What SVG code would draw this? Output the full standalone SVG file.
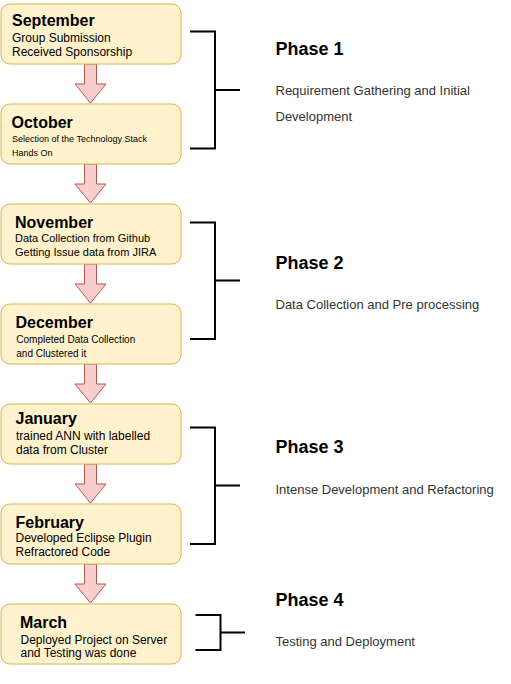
<svg xmlns="http://www.w3.org/2000/svg" width="511" height="684" viewBox="0 0 511 684">
<style>
.box{fill:#fff2cc;stroke:#d6b656;stroke-width:1}
.arr{fill:#f8cecc;stroke:#b85450;stroke-width:1}
.br{fill:none;stroke:#000;stroke-width:2}
text{font-family:"Liberation Sans",Arial,sans-serif;fill:#000}
.t{font-weight:bold;font-size:16px}
.ph{font-weight:bold;font-size:18px}
.d{font-size:13px;fill:#333}
</style>
<rect width="511" height="684" fill="#fff"/>
<g id="connectors">
<polygon class="arr" points="84.5,64 96.5,64 96.5,84 106,84 90.5,103 75,84 84.5,84"/>
<polygon class="arr" points="84.5,164 96.5,164 96.5,184 106,184 90.5,203 75,184 84.5,184"/>
<polygon class="arr" points="84.5,264 96.5,264 96.5,284 106,284 90.5,303 75,284 84.5,284"/>
<polygon class="arr" points="84.5,364 96.5,364 96.5,384 106,384 90.5,403 75,384 84.5,384"/>
<polygon class="arr" points="84.5,464 96.5,464 96.5,484 106,484 90.5,503 75,484 84.5,484"/>
<polygon class="arr" points="84.5,564 96.5,564 96.5,584 106,584 90.5,603 75,584 84.5,584"/>
</g>
<g id="september">
<rect class="box" x="1" y="4" width="180" height="60" rx="9"/>
<text class="t" x="12" y="26">September</text>
<text x="12" y="42" font-size="12">Group Submission</text>
<text x="12" y="56" font-size="12">Received Sponsorship</text>
</g>
<g id="october">
<rect class="box" x="1" y="104" width="180" height="60" rx="9"/>
<text class="t" x="11.5" y="128">October</text>
<text x="12" y="142" font-size="9">Selection of the Technology Stack</text>
<text x="12" y="156" font-size="9">Hands On</text>
</g>
<g id="november">
<rect class="box" x="1" y="204" width="180" height="60" rx="9"/>
<text class="t" x="15" y="227.5">November</text>
<text x="15" y="242" font-size="11">Data Collection from Github</text>
<text x="15" y="256" font-size="11">Getting Issue data from JIRA</text>
</g>
<g id="december">
<rect class="box" x="1" y="304" width="180" height="60" rx="9"/>
<text class="t" x="15.5" y="328">December</text>
<text x="16.3" y="343" font-size="10">Completed Data Collection</text>
<text x="16.3" y="357" font-size="10">and Clustered it</text>
</g>
<g id="january">
<rect class="box" x="1" y="404" width="180" height="60" rx="9"/>
<text class="t" x="15.5" y="423.5">January</text>
<text x="16" y="439.5" font-size="12">trained ANN with labelled</text>
<text x="16" y="453.5" font-size="12">data from Cluster</text>
</g>
<g id="february">
<rect class="box" x="1" y="504" width="180" height="60" rx="9"/>
<text class="t" x="15.5" y="527.5">February</text>
<text x="15.5" y="542" font-size="12">Developed Eclipse Plugin</text>
<text x="15.5" y="556" font-size="12">Refractored Code</text>
</g>
<g id="march">
<rect class="box" x="1" y="604" width="180" height="60" rx="9"/>
<text class="t" x="20" y="627.5">March</text>
<text x="20.5" y="643.5" font-size="12">Deployed Project on Server</text>
<text x="20.5" y="657" font-size="12">and Testing was done</text>
</g>
<g id="phase1">
<path class="br" d="M190,31.5 H215 V148.5 H190 M215,90 H240"/>
<text class="ph" x="275.5" y="54.5">Phase 1</text>
<text class="d" x="275.5" y="95">Requirement Gathering and Initial</text>
<text class="d" x="275.5" y="121">Development</text>
</g>
<g id="phase2">
<path class="br" d="M190,222.5 H215 V339 H190 M215,280.5 H240"/>
<text class="ph" x="275.5" y="269">Phase 2</text>
<text class="d" x="275.5" y="309">Data Collection and Pre processing</text>
</g>
<g id="phase3">
<path class="br" d="M190,427.5 H215 V544 H190 M215,485.5 H240"/>
<text class="ph" x="275.5" y="452.5">Phase 3</text>
<text class="d" x="275.5" y="493.5">Intense Development and Refactoring</text>
</g>
<g id="phase4">
<path class="br" d="M195.5,615 H220.5 V650 H195.5 M220.5,632.5 H245"/>
<text class="ph" x="275.5" y="606">Phase 4</text>
<text class="d" x="275.5" y="646">Testing and Deployment</text>
</g>
</svg>
